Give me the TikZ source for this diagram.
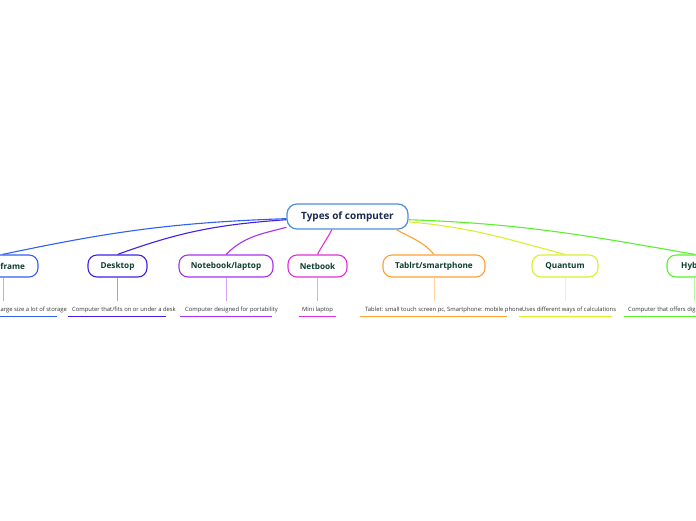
\documentclass[tikz,border=0pt]{standalone}
\usepackage{fontspec}
\setmainfont{Open Sans}
\definecolor{cA}{HTML}{3060F0}
\definecolor{cB}{HTML}{4020E8}
\definecolor{cC}{HTML}{A830F0}
\definecolor{cD}{HTML}{E030D8}
\definecolor{cE}{HTML}{FFA030}
\definecolor{cF}{HTML}{D8F030}
\definecolor{cG}{HTML}{5CF030}
\definecolor{rootc}{HTML}{4A8FDA}
\definecolor{navy}{HTML}{1A2B4F}
\definecolor{dgreen}{HTML}{0D3D2D}
\definecolor{desc}{HTML}{333333}
\tikzset{
  rootbox/.style={draw=rootc, line width=1.2pt, rounded corners=10pt, fill=white,
    text=navy, font=\bfseries\fontsize{10}{12}\selectfont, minimum height=25pt, inner sep=0pt},
  topic/.style={draw=#1, line width=1.1pt, rounded corners=9pt, fill=white,
    text=dgreen, font=\bfseries\fontsize{8.2}{10}\selectfont, minimum height=22pt, inner sep=0pt},
  branch/.style={draw=#1, line width=1.1pt},
  stem/.style={draw=#1!45!white, line width=0.9pt},
  uline/.style={draw=#1, line width=1.8pt},
  desctext/.style={text=desc, font=\fontsize{5.85}{7}\selectfont, inner sep=0pt, anchor=west},
}
\begin{document}
\begin{tikzpicture}[x=1pt,y=1pt]
\useasboundingbox (0,0) rectangle (696,-520);
% topics
\node[topic=cA, minimum width=71pt] (mf) at (2.5,-266) {Mainframe};
\node[topic=cB, minimum width=59pt] (dt) at (117.5,-266) {Desktop};
\node[topic=cC, minimum width=94pt] (nl) at (226,-266) {Notebook/laptop};
\node[topic=cD, minimum width=59pt] (nb) at (317.5,-266) {Netbook};
\node[topic=cE, minimum width=102pt] (ts) at (434,-266) {Tablrt/smartphone};
\node[topic=cF, minimum width=66pt] (qu) at (565,-266) {Quantum};
\node[topic=cG, minimum width=56pt] (hy) at (695,-266) {Hybrid};
% root
\node[rootbox, minimum width=121pt] (root) at (347.5,-216.5) {Types of computer};
% branches
\draw[branch=cA] (root.182.4) to[out=182, in=12] (mf.north);
\draw[branch=cB] (root.183) to[out=184, in=20] (dt.north);
\draw[branch=cC] (root.190.7) to[out=195, in=45] (nl.north);
\draw[branch=cD] (root.220.8) to[out=242, in=62] (nb.north);
\draw[branch=cE] (root.345) to[out=-30, in=130] (ts.north);
\draw[branch=cF] (root.355.7) to[out=-5, in=165] (qu.north);
\draw[branch=cG] (root.357.6) to[out=-2, in=170] (hy.north);
% stems
\coordinate (mfe) at (3,-301);
\coordinate (dte) at (117.5,-301);
\coordinate (nle) at (226.5,-301);
\coordinate (nbe) at (317.5,-301);
\coordinate (tse) at (434,-301);
\coordinate (que) at (565,-301);
\coordinate (hye) at (694,-301);
\draw[stem=cA] (mf.south -| mfe) -- (mfe);
\draw[stem=cB] (dt.south) -- (dte);
\draw[stem=cC] (nl.south -| nle) -- (nle);
\draw[stem=cD] (nb.south) -- (nbe);
\draw[stem=cE] (ts.south) -- (tse);
\draw[stem=cF] (qu.south) -- (que);
\draw[stem=cG] (hy.south -| hye) -- (hye);
% descriptions
\node[desctext, anchor=east] (mfd) at (67,-310) {Large size a lot of storage};
\node[desctext] (dtd) at (72,-310) {Computer that/fits on or under a desk};
\node[desctext] (nld) at (185,-310) {Computer designed for portability};
\node[desctext] (nbd) at (302,-310) {Mini laptop};
\node[desctext] (tsd) at (365,-310) {Tablet: small touch screen pc, Smartphone: mobile phone};
\node[desctext] (qud) at (522,-310) {Uses different ways of calculations};
\node[desctext] (hyd) at (628,-310) {Computer that offers digital and analog features};
% underlines
\coordinate (u1a) at (-51,-316.5); \coordinate (u1b) at (57,-316.5);
\coordinate (u2a) at (68,-316.5); \coordinate (u2b) at (166,-316.5);
\coordinate (u3a) at (180,-316.5); \coordinate (u3b) at (272,-316.5);
\coordinate (u4a) at (299,-316.5); \coordinate (u4b) at (336,-316.5);
\coordinate (u5a) at (360,-316.5); \coordinate (u5b) at (507,-316.5);
\coordinate (u6a) at (519,-316.5); \coordinate (u6b) at (612,-316.5);
\coordinate (u7a) at (624,-316.5); \coordinate (u7b) at (764,-316.5);
\draw[uline=cA] (u1a) -- (u1b);
\draw[uline=cB] (u2a) -- (u2b);
\draw[uline=cC] (u3a) -- (u3b);
\draw[uline=cD] (u4a) -- (u4b);
\draw[uline=cE] (u5a) -- (u5b);
\draw[uline=cF] (u6a) -- (u6b);
\draw[uline=cG] (u7a) -- (u7b);
\end{tikzpicture}
\end{document}
